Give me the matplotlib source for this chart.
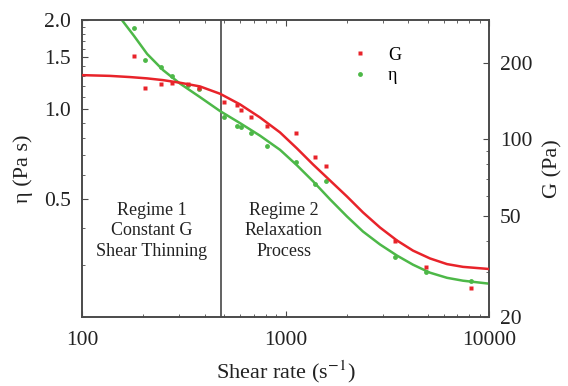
import matplotlib
matplotlib.use("Agg")
import matplotlib.pyplot as plt
from matplotlib.ticker import FixedLocator, FixedFormatter, NullFormatter, LogLocator
from matplotlib.lines import Line2D

plt.rcParams['font.family'] = ['Liberation Serif', 'DejaVu Serif']
plt.rcParams['mathtext.fontset'] = 'stix'

# --- data ---
shear_eta = [180, 205, 245, 277, 332, 376, 498, 577, 604, 676, 810, 1128, 1395, 1585, 3450, 4900, 8160]
eta_vals = [1.883, 1.468, 1.39, 1.296, 1.208, 1.171, 0.942, 0.882, 0.871, 0.835, 0.752, 0.664, 0.559, 0.573, 0.319, 0.284, 0.265]

shear_G = [180, 205, 245, 277, 332, 376, 498, 577, 604, 676, 810, 1128, 1395, 1585, 3450, 4900, 8160]
G_vals = [212, 159, 165, 166, 165, 160, 140, 136.6, 131, 122, 112.5, 105.5, 84.9, 78.3, 39.7, 31.6, 25.9]

# fitted curves
fitG_x = [100, 137, 172, 209, 250, 303, 380, 477, 598, 749, 940, 1139, 1365, 1655, 2005, 2403,
          2913, 3531, 4232, 5129, 6218, 7452, 10000]
fitG_y = [179, 177.8, 175.9, 173.8, 171.1, 167.1, 161.6, 151.2, 137.3, 122.0, 106.5, 92.1, 79.7,
          68.9, 59.6, 51.6, 45.0, 40.0, 36.5, 34.0, 32.3, 31.5, 30.9]

fitEta_x = [157, 180, 209, 250, 303, 380, 477, 598, 749, 940, 1139, 1365, 1655, 2005, 2403,
            2913, 3531, 4232, 5129, 6218, 7452, 10000]
fitEta_y = [2.0, 1.769, 1.537, 1.357, 1.222, 1.100, 0.987, 0.899, 0.816, 0.731, 0.648, 0.573,
            0.498, 0.436, 0.388, 0.351, 0.322, 0.300, 0.282, 0.271, 0.265, 0.259]

regime_boundary = 480

eta_ticks = [0.5, 1.0, 1.5, 2.0]
eta_ticklabels = ['0.5', '1.0', '1.5', '2.0']
G_ticks = [20, 50, 100, 200]
G_ticklabels = ['20', '50', '100', '200']
x_ticks = [100, 1000, 10000]
x_ticklabels = ['100', '1000', '10000']

red = '#e8232a'
green = '#4db848'
spine_c = '#4a4a4a'

fig = plt.figure(figsize=(5.68, 3.86), dpi=100)
ax = fig.add_axes([82/568, 1-317/386, 407/568, 297/386])
ax2 = ax.twinx()

ax.set_xscale('log')
ax.set_yscale('log')
ax2.set_yscale('log')
ax.set_xlim(100, 10000)
ax.set_ylim(0.2, 2.0)
ax2.set_ylim(20, 295)

# eta on left axis
ax.plot(fitEta_x, fitEta_y, color=green, lw=1.8, zorder=3, solid_joinstyle='round')
ax.plot(shear_eta, eta_vals, 'o', color=green, ms=3.5, mec='none', zorder=4)
# G on right axis
ax2.plot(fitG_x, fitG_y, color=red, lw=1.8, zorder=3, solid_joinstyle='round')
ax2.plot(shear_G, G_vals, 's', color=red, ms=3.5, mec='none', zorder=4)

ax.axvline(regime_boundary, color='#555555', lw=1.3, zorder=2)

# ticks
ax.xaxis.set_major_locator(FixedLocator(x_ticks))
ax.xaxis.set_major_formatter(FixedFormatter(x_ticklabels))
ax.xaxis.set_minor_locator(LogLocator(base=10, subs=range(2, 10)))
ax.xaxis.set_minor_formatter(NullFormatter())
ax.yaxis.set_major_locator(FixedLocator(eta_ticks))
ax.yaxis.set_major_formatter(FixedFormatter(eta_ticklabels))
ax.yaxis.set_minor_locator(LogLocator(base=10, subs=[0.2,0.3,0.4,0.6,0.7,0.8,0.9, 1.1,1.2,1.3,1.4,1.6,1.7,1.8,1.9]))
ax.yaxis.set_minor_formatter(NullFormatter())
ax2.yaxis.set_major_locator(FixedLocator(G_ticks))
ax2.yaxis.set_major_formatter(FixedFormatter(G_ticklabels))
ax2.yaxis.set_minor_locator(LogLocator(base=10, subs=range(2, 10)))
ax2.yaxis.set_minor_formatter(NullFormatter())

for a in (ax, ax2):
    for s in a.spines.values():
        s.set_color(spine_c)
        s.set_linewidth(1.2)
ax.tick_params(axis='both', which='both', direction='in', colors=spine_c, labelcolor='#222222', labelsize=15.5, top=True)
ax.tick_params(axis='both', which='major', length=4)
ax.tick_params(axis='both', which='minor', length=2.5)
ax.tick_params(axis='x', which='major', pad=10)
ax.tick_params(axis='y', which='major', pad=8)
ax2.tick_params(axis='y', which='both', direction='in', colors=spine_c, labelcolor='#222222', labelsize=15.5, pad=8)
ax2.tick_params(axis='y', which='major', length=4)
ax2.tick_params(axis='y', which='minor', length=2.5)

ax.set_xlabel('Shear rate (s$^{-1}$)', fontsize=16, color='#222222', labelpad=6)
ax.set_ylabel('η (Pa s)', fontsize=16, color='#222222', labelpad=8)
ax2.set_ylabel('G (Pa)', fontsize=16, color='#222222', labelpad=8)

ax.text(0.172, 0.29, 'Regime 1\nConstant G\nShear Thinning', transform=ax.transAxes,
        ha='center', va='center', fontsize=13, color='#222222', linespacing=1.25)
ax.text(0.496, 0.29, 'Regime 2\nRelaxation\nProcess', transform=ax.transAxes,
        ha='center', va='center', fontsize=13, color='#222222', linespacing=1.25)

handles = [Line2D([], [], ls='none', marker='s', color=red, ms=3.5, mec='none'),
           Line2D([], [], ls='none', marker='o', color=green, ms=3.5, mec='none')]
ax2.legend(handles, ['G', 'η'], loc='upper left', bbox_to_anchor=(0.61, 0.965),
           frameon=False, fontsize=13, handlelength=1.5, handletextpad=0.8, labelspacing=0.2)

fig.savefig('out.png', dpi=100)
